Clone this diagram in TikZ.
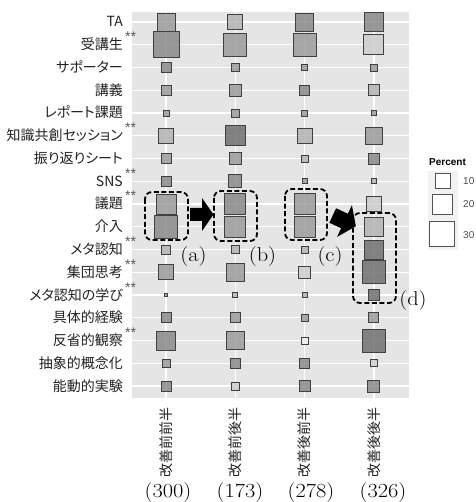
\documentclass[tikz,border=0pt]{standalone}
\usepackage{fontspec}
\newfontfamily\jp{Noto Sans CJK JP}[RawFeature={+palt}]
\newfontfamily\jpv{Noto Sans CJK JP}
\newfontfamily\lsans{Liberation Sans}
\definecolor{panelbg}{HTML}{E5E5E5}
\definecolor{legbg}{HTML}{F2F2F2}
\definecolor{shV}{HTML}{707070}
\definecolor{shD}{HTML}{8A8A8A}
\definecolor{shM}{HTML}{9C9C9C}
\definecolor{shL}{HTML}{B3B3B3}
\definecolor{shW}{HTML}{CDCDCD}
\definecolor{shE}{HTML}{EDEDED}
\definecolor{sqborder}{HTML}{404040}
\definecolor{labtext}{HTML}{222222}
\begin{document}
\begin{tikzpicture}[x=1pt,y=-1pt,
  gridl/.style={white, line width=1.3pt},
  sq/.style={draw=sqborder, line width=0.9pt, fill opacity=0.85, inner sep=0pt, outer sep=0pt, shape=rectangle},
  ylab/.style={anchor=base east, inner sep=0pt, text=labtext, font=\jp\fontsize{14}{14}\selectfont},
  stars/.style={anchor=base west, inner sep=0pt, text=labtext!75, font=\lsans\fontsize{14}{14}\selectfont},
  xlab/.style={anchor=east, rotate=90, inner sep=0pt, text=labtext, font=\jpv\fontsize{14}{14}\selectfont},
  nlab/.style={anchor=base, inner sep=0pt, font=\fontsize{20}{20}\selectfont},
  dbox/.style={draw=black, line width=1.8pt, dash pattern=on 5pt off 2.6pt, rounded corners=7pt},
  legkey/.style={draw=sqborder!90, line width=0.9pt, fill=white, inner sep=0pt, shape=rectangle},
  legtxt/.style={anchor=west, inner sep=0pt, text=black!70, font=\lsans\fontsize{10}{10}\selectfont}
]
\useasboundingbox (0,0) rectangle (475,502);
% panel
\fill[panelbg] (132,12) rectangle (409,398);
\foreach \i in {0,...,16} \draw[gridl] (132,{22+22.75*\i}) -- (409,{22+22.75*\i});
\foreach \j in {0,...,3} \draw[gridl] ({166+69.3*\j},12) -- ({166+69.3*\j},398);
% y labels
\foreach \t [count=\i from 0] in {TA,受講生,サポーター,講義,レポート課題,知識共創セッション,振り返りシート,SNS,議題,介入,メタ認知,集団思考,メタ認知の学び,具体的経験,反省的観察,抽象的概念化,能動的実験}
  \node[ylab] (yl\i) at (123,{22+22.75*\i+5}) {\t};
\foreach \i in {1,5,7,8,10,11,12,14}
  \node[stars] (st\i) at (125,{22+22.75*\i-3}) {**};
% squares column 1
\foreach \s/\c [count=\i from 0] in {18/M,26/D,10/D,10/M,6/M,15/L,10/M,10/D,20/M,23/D,9/L,15/M,3/M,10/D,19/D,8/M,10/D}
  \node[sq, minimum size=\s pt, fill=sh\c] (qa\i) at (166,{22+22.75*\i}) {};
% column 2
\foreach \s/\c [count=\i from 0] in {15/L,23/M,8/M,12/M,8/M,20/V,12/M,13/D,21/D,21/M,8/L,18/M,5/L,10/M,18/M,10/D,8/W}
  \node[sq, minimum size=\s pt, fill=sh\c] (qb\i) at (235.3,{22+22.75*\i}) {};
% column 3
\foreach \s/\c [count=\i from 0] in {18/D,23/M,6/M,10/D,6/M,15/L,7/L,5/M,21/M,21/M,7/L,12/W,5/L,7/M,7/E,10/D,11/D}
  \node[sq, minimum size=\s pt, fill=sh\c] (qc\i) at (304.6,{22+22.75*\i}) {};
% column 4
\foreach \s/\c [count=\i from 0] in {19/D,20/W,7/M,11/L,5/M,17/M,11/D,5/L,15/W,19/L,19/V,23/V,11/V,10/M,23/V,7/W,12/D}
  \node[sq, minimum size=\s pt, fill=sh\c] (qd\i) at (373.9,{22+22.75*\i}) {};
% x labels
\node[xlab] (x1) at (166,407) {改善前前半};
\node[xlab] (x2) at (235.3,407) {改善前後半};
\node[xlab] (x3) at (304.6,407) {改善後前半};
\node[xlab] (x4) at (373.9,407) {改善後後半};
\node[nlab] (n1) at (168,497) {\scalebox{1.12}[1]{(300)}};
\node[nlab] (n2) at (240,497) {\scalebox{1.12}[1]{(173)}};
\node[nlab] (n3) at (311,497) {\scalebox{1.12}[1]{(278)}};
\node[nlab] (n4) at (383,497) {\scalebox{1.12}[1]{(326)}};
% dashed groups
\draw[dbox] (145,192) rectangle (188,240);
\draw[dbox] (214,191) rectangle (257,241);
\draw[dbox] (285,189) rectangle (327,240);
\draw[dbox] (353,213) rectangle (396,303);
\node[nlab] (la) at (193.5,261) {\scalebox{1.12}[1]{(a)}};
\node[nlab] (lb) at (262.5,261) {\scalebox{1.12}[1]{(b)}};
\node[nlab] (lc) at (330,261) {\scalebox{1.12}[1]{(c)}};
\node[nlab] (ld) at (413,305) {\scalebox{1.12}[1]{(d)}};
% block arrows
\fill[black] (190,208) -- (202,208) -- (202,198) -- (213.5,214.5) -- (202,231) -- (202,221) -- (190,221) -- cycle;
\begin{scope}[shift={(344.5,221)}, rotate=-25]
  \fill[black] (-13,-8) -- (0,-8) -- (0,-17.5) -- (12.5,0) -- (0,17.5) -- (0,8) -- (-13,8) -- cycle;
\end{scope}
% legend
\node[anchor=west, inner sep=0pt, font=\lsans\bfseries\fontsize{10}{10}\selectfont] (legt) at (429,162) {Percent};
\fill[legbg] (428,171) rectangle (458,250);
\node[legkey, minimum size=15pt] (k1) at (443,181) {};
\node[legkey, minimum size=20pt] (k2) at (442.5,204) {};
\node[legkey, minimum size=25pt] (k3) at (442,234) {};
\node[legtxt] (kl1) at (463,181) {10};
\node[legtxt] (kl2) at (463,204) {20};
\node[legtxt] (kl3) at (463,235) {30};
\end{tikzpicture}
\end{document}
